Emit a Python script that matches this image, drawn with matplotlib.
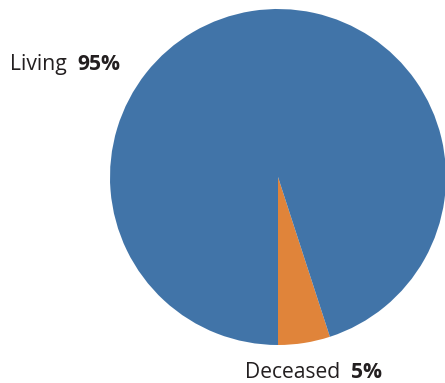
import matplotlib
matplotlib.use('Agg')
import matplotlib.pyplot as plt

labels = ['Deceased', 'Living']
shares = [5, 95]
colors = ['#e0843a', '#4174a8']

W, H = 445, 383
fig = plt.figure(figsize=(W / 100, H / 100), dpi=100)

# pie box in pixels: center (278, 177), radius 168
cx, cy, r = 278, 177, 168
ax = fig.add_axes([(cx - r) / W, (H - cy - r) / H, 2 * r / W, 2 * r / H])
ax.pie(shares, colors=colors, startangle=270, counterclock=True,
       wedgeprops=dict(linewidth=0))
ax.set_xlim(-1, 1)
ax.set_ylim(-1, 1)
ax.set_aspect('equal')
ax.axis('off')
for p in ax.patches:
    p.set_clip_on(False)

font = 'Open Sans'
fs = 15.2
txt_col = '#231f20'

def label(x, y, name, pct):
    t = fig.text(x / W, 1 - y / H, name, fontsize=fs, family=font,
                 color=txt_col, va='baseline', ha='left')
    fig.canvas.draw()
    bb = t.get_window_extent()
    fig.text((bb.x1 + 11) / W, 1 - y / H, pct, fontsize=fs, family=font,
             fontweight='bold', color=txt_col, va='baseline', ha='left')

label(10, 70, labels[1], f'{shares[1]}%')
label(245, 378, labels[0], f'{shares[0]}%')

fig.savefig('out.png', dpi=100)
